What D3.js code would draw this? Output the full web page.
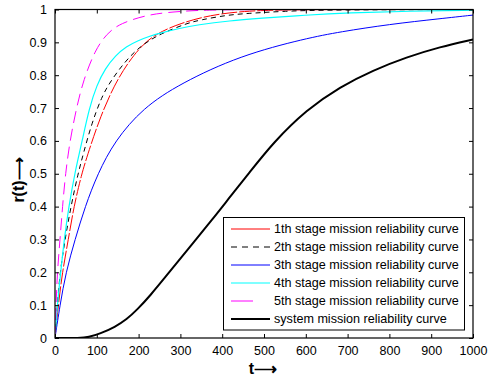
<!DOCTYPE html>
<html><head><meta charset="utf-8">
<script src="https://cdn.jsdelivr.net/npm/d3@7"></script>
<style>body{margin:0;background:#fff}svg{display:block}text{font-family:"Liberation Sans",Arial,Helvetica,sans-serif}</style>
</head><body><svg id="c" width="488" height="380"></svg>
<script>
const xTicks = [0,100,200,300,400,500,600,700,800,900,1000];
const yTicks = [0,0.1,0.2,0.3,0.4,0.5,0.6,0.7,0.8,0.9,1];
const yTickLabels = ["0","0.1","0.2","0.3","0.4","0.5","0.6","0.7","0.8","0.9","1"];
const seriesNames = ["1th stage mission reliability curve","2th stage mission reliability curve","3th stage mission reliability curve","4th stage mission reliability curve","5th stage mission reliability curve","system mission reliability curve"];
const stage1 = [[0,0],[8,0.1],[17.5,0.2],[32,0.3],[45,0.4],[64,0.5],[76,0.55],[108,0.674],[151,0.796],[203,0.887],[243,0.927],[299,0.958],[371,0.983],[450,0.995],[550,1],[1000,1]];
const stage2 = [[0,0],[5.5,0.1],[12,0.2],[24,0.3],[38,0.4],[55,0.5],[68,0.562],[88,0.654],[112,0.735],[132,0.78],[167,0.841],[199,0.882],[227,0.907],[255,0.927],[315,0.958],[347,0.968],[411,0.983],[459,0.988],[550,0.995],[650,0.999],[1000,1]];
const stage3 = [[0,0],[12,0.1],[26,0.2],[48,0.3],[72,0.4],[102,0.5],[143,0.6],[210,0.7],[300,0.775],[443,0.86],[600,0.912],[682,0.932],[800,0.955],[921,0.972],[1000,0.983]];
const stage4 = [[0,0],[5.5,0.1],[13.6,0.2],[22,0.3],[33,0.4],[47,0.5],[65,0.6],[82,0.7],[100,0.77],[120,0.82],[145,0.86],[170,0.887],[200,0.906],[225,0.918],[251,0.928],[299,0.943],[339,0.953],[419,0.966],[490,0.973],[600,0.983],[700,0.99],[850,0.995],[1000,0.998]];
const stage5 = [[0,0],[2.5,0.1],[5.5,0.2],[12,0.3],[18,0.4],[25,0.5],[36,0.603],[52,0.704],[68,0.785],[96,0.877],[124,0.927],[156,0.958],[219,0.983],[267,0.991],[339,0.998],[450,1],[1000,1]];
const system = [[0,0],[60,0],[80,0.002],[108,0.013],[144,0.034],[171,0.056],[198,0.088],[227,0.128],[267,0.19],[319,0.272],[379,0.365],[419,0.43],[463,0.5],[522,0.595],[602,0.695],[682,0.765],[761,0.815],[841,0.855],[921,0.886],[1000,0.909]];

const series = [
  {name:seriesNames[0], data:stage1, color:"#ff0000", w:1, dash:"16,2", ldash:null},
  {name:seriesNames[1], data:stage2, color:"#000000", w:1, dash:"5,4", ldash:"6,5"},
  {name:seriesNames[2], data:stage3, color:"#0000ff", w:1, dash:null, ldash:null},
  {name:seriesNames[3], data:stage4, color:"#00ffff", w:1.2, dash:null, ldash:null},
  {name:seriesNames[4], data:stage5, color:"#ff00ff", w:1, dash:"12,6", ldash:"22,30"},
  {name:seriesNames[5], data:system, color:"#000000", w:2, dash:null, ldash:null}
];

const svg = d3.select("#c");
const L=55, R=473, T=9.5, B=338;
const x = d3.scaleLinear().domain([0,1000]).range([L,R]);
const y = d3.scaleLinear().domain([0,1]).range([B,T]);

const line = d3.line().x(d=>x(d[0])).y(d=>y(d[1])).curve(d3.curveBasis);
const g = svg.append("g");
g.append("defs").append("clipPath").attr("id","clip").append("rect").attr("x",L).attr("y",T).attr("width",R-L).attr("height",B-T);
const plot = g.append("g").attr("clip-path","url(#clip)");
series.forEach(s=>{
  plot.append("path").attr("d",line(s.data)).attr("fill","none")
    .attr("stroke",s.color).attr("stroke-width",s.w)
    .attr("stroke-dasharray",s.dash);
});

// axes
const fs = 12.5;
const axB = d3.axisBottom(x).tickValues(xTicks).tickSize(-4).tickPadding(8).tickFormat(d3.format("d"));
const axT = d3.axisTop(x).tickValues(xTicks).tickSize(-4).tickFormat("");
const axL = d3.axisLeft(y).tickValues(yTicks).tickSize(-4).tickPadding(8).tickFormat((d,i)=>yTickLabels[i]);
const axR = d3.axisRight(y).tickValues(yTicks).tickSize(-4).tickFormat("");
function style(sel){sel.select(".domain").remove();sel.selectAll("line").attr("stroke","#000");sel.selectAll("text").attr("font-size",fs).attr("fill","#000");}
g.append("g").attr("transform",`translate(0,${B})`).call(axB).call(style);
g.append("g").attr("transform",`translate(0,${T})`).call(axT).call(style);
g.append("g").attr("transform",`translate(${L},0)`).call(axL).call(style);
g.append("g").attr("transform",`translate(${R},0)`).call(axR).call(style);
g.append("rect").attr("x",L).attr("y",T).attr("width",R-L).attr("height",B-T).attr("fill","none").attr("stroke","#000").attr("stroke-width",1.2);

// labels
svg.append("text").attr("x",263).attr("y",374).attr("text-anchor","middle").attr("font-size",16).attr("font-weight","bold").text("t\u27F6");
svg.append("text").attr("transform","translate(24,180) rotate(-90)").attr("text-anchor","middle").attr("font-size",16).attr("font-weight","bold").text("r(t)\u27F6");

// legend
const lg = svg.append("g");
lg.append("rect").attr("x",223.5).attr("y",217.5).attr("width",241).attr("height",112.5).attr("fill","#fff").attr("stroke","#000").attr("stroke-width",1);
const rowY = [229,247,265,283,301,319];
series.forEach((s,i)=>{
  lg.append("line").attr("x1",231).attr("x2",270).attr("y1",rowY[i]).attr("y2",rowY[i])
    .attr("stroke",s.color).attr("stroke-width",s.w).attr("stroke-dasharray",s.ldash);
  lg.append("text").attr("x",274).attr("y",rowY[i]).attr("dy","0.35em").attr("font-size",12.6).attr("fill","#000").text(s.name);
});
</script></body></html>
